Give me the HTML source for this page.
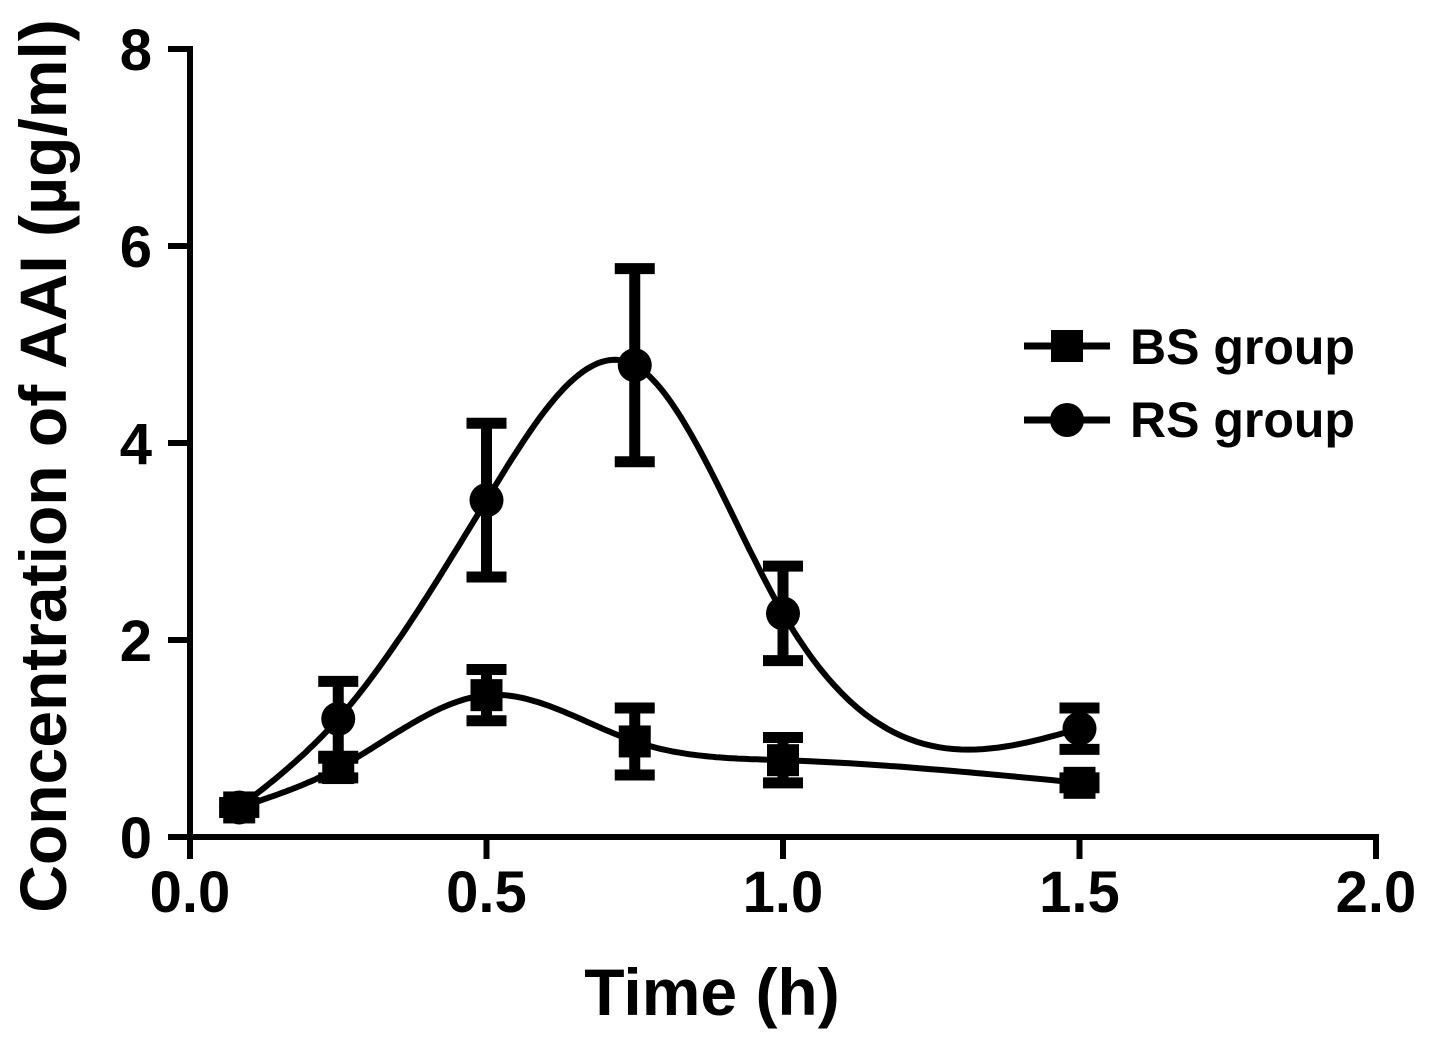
<!DOCTYPE html>
<html><head><meta charset="utf-8"><style>
html,body{margin:0;padding:0;background:#fff;}
svg{display:block;font-family:"Liberation Sans",Arial,sans-serif;font-weight:bold;}
</style></head><body>
<svg id="chart" width="1441" height="1044" viewBox="0 0 1441 1044" xmlns="http://www.w3.org/2000/svg">
<g id="axes"></g>
<g id="series"></g>
<g id="legend">
  <line x1="1024" y1="346" x2="1110" y2="346" stroke="#000" stroke-width="7"/>
  <rect x="1051" y="330" width="32" height="32" fill="#000"/>
  <text x="1130" y="364" font-size="50">BS group</text>
  <line x1="1024" y1="420" x2="1110" y2="420" stroke="#000" stroke-width="7"/>
  <circle cx="1067" cy="420" r="17" fill="#000"/>
  <text x="1130" y="437" font-size="50">RS group</text>
</g>
<text x="712" y="1015" font-size="66" text-anchor="middle">Time (h)</text>
<text transform="translate(66,466) rotate(-90)" font-size="66" text-anchor="middle">Concentration of AAI (µg/ml)</text>
</svg>
<script>
const times = [0.083, 0.25, 0.5, 0.75, 1.0, 1.5];
const bsMean = [0.3, 0.7, 1.44, 0.97, 0.78, 0.55];
const bsErr = [0.05, 0.1, 0.26, 0.34, 0.23, 0.05];
const rsMean = [0.3, 1.2, 3.42, 4.79, 2.27, 1.1];
const rsErr = [0.05, 0.38, 0.78, 0.98, 0.48, 0.21];
const xTicks = [0, 0.5, 1.0, 1.5, 2.0];
const xTickLabels = ["0.0", "0.5", "1.0", "1.5", "2.0"];
const yTicks = [0, 2, 4, 6, 8];
const yTickLabels = ["0", "2", "4", "6", "8"];

const NS = "http://www.w3.org/2000/svg";
const X0 = 190, XS = 593, Y0 = 837, YS = 98.5;
function xs(v){ return X0 + v * XS; }
function ys(v){ return Y0 - v * YS; }
function mk(tag, attrs, parent){
  const e = document.createElementNS(NS, tag);
  for (const k in attrs) e.setAttribute(k, attrs[k]);
  parent.appendChild(e);
  return e;
}
const axes = document.getElementById('axes');
const series = document.getElementById('series');

let e = mk('line', {x1: X0, y1: ys(8) - 3, x2: X0, y2: Y0 + 3, stroke: '#000', 'stroke-width': 6}, axes);


e = mk('line', {x1: 168, y1: Y0, x2: xs(2) + 3, y2: Y0, stroke: '#000', 'stroke-width': 6}, axes);



xTicks.forEach((t, i) => {
  let l = mk('line', {x1: xs(t), y1: Y0, x2: xs(t), y2: Y0 + 22, stroke: '#000', 'stroke-width': 6}, axes);
  
  
  let tx = mk('text', {x: xs(t), y: 912, 'font-size': 58, 'text-anchor': 'middle'}, axes);
  tx.textContent = xTickLabels[i];
  
  
});
yTicks.forEach((t, i) => {
  let l = mk('line', {x1: 168, y1: ys(t), x2: X0, y2: ys(t), stroke: '#000', 'stroke-width': 6}, axes);
  
  
  let tx = mk('text', {x: 152, y: ys(t) + 21, 'font-size': 58, 'text-anchor': 'end'}, axes);
  tx.textContent = yTickLabels[i];
  
  
});

function spline(xv, yv){
  const n = xv.length, h = [], a = [], l = [1], mu = [0], z = [0], c = new Array(n).fill(0), b = [], d = [];
  for (let i = 0; i < n - 1; i++) h.push(xv[i+1] - xv[i]);
  for (let i = 1; i < n - 1; i++) a[i] = 3/h[i]*(yv[i+1]-yv[i]) - 3/h[i-1]*(yv[i]-yv[i-1]);
  for (let i = 1; i < n - 1; i++){
    l[i] = 2*(xv[i+1]-xv[i-1]) - h[i-1]*mu[i-1];
    mu[i] = h[i]/l[i];
    z[i] = (a[i] - h[i-1]*z[i-1])/l[i];
  }
  for (let j = n - 2; j > 0; j--) c[j] = z[j] - mu[j]*c[j+1];
  c[0] = 0; c[n-1] = 0;
  for (let j = n - 2; j >= 0; j--){
    b[j] = (yv[j+1]-yv[j])/h[j] - h[j]*(c[j+1]+2*c[j])/3;
    d[j] = (c[j+1]-c[j])/(3*h[j]);
  }
  let pts = [];
  for (let j = 0; j < n - 1; j++){
    for (let s = 0; s <= 40; s++){
      const t = h[j]*s/40;
      pts.push([xv[j]+t, yv[j] + b[j]*t + c[j]*t*t + d[j]*t*t*t]);
    }
  }
  return pts;
}

function drawSeries(mean, err, shape, name){
  const pts = spline(times, mean);
  let p = mk('path', {d: 'M' + pts.map(q => xs(q[0]).toFixed(1) + ',' + ys(q[1]).toFixed(1)).join('L'), fill: 'none', stroke: '#000', 'stroke-width': 6}, series);
  
  
  times.forEach((t, i) => {
    const x = xs(t);
    const top = ys(mean[i] + err[i]), bot = ys(mean[i] - err[i]);
    let g = mk('g', {}, series);
    
    
    mk('line', {x1: x, y1: top, x2: x, y2: bot, stroke: '#000', 'stroke-width': 11}, g);
    mk('line', {x1: x - 20, y1: top, x2: x + 20, y2: top, stroke: '#000', 'stroke-width': 11}, g);
    mk('line', {x1: x - 20, y1: bot, x2: x + 20, y2: bot, stroke: '#000', 'stroke-width': 11}, g);
    let m;
    if (shape === 'square') m = mk('rect', {x: x - 16, y: ys(mean[i]) - 16, width: 32, height: 32, fill: '#000'}, series);
    else m = mk('circle', {cx: x, cy: ys(mean[i]), r: 17, fill: '#000'}, series);
    
    
  });
}
drawSeries(rsMean, rsErr, 'circle', 'rs');
drawSeries(bsMean, bsErr, 'square', 'bs');
</script>
</body></html>
